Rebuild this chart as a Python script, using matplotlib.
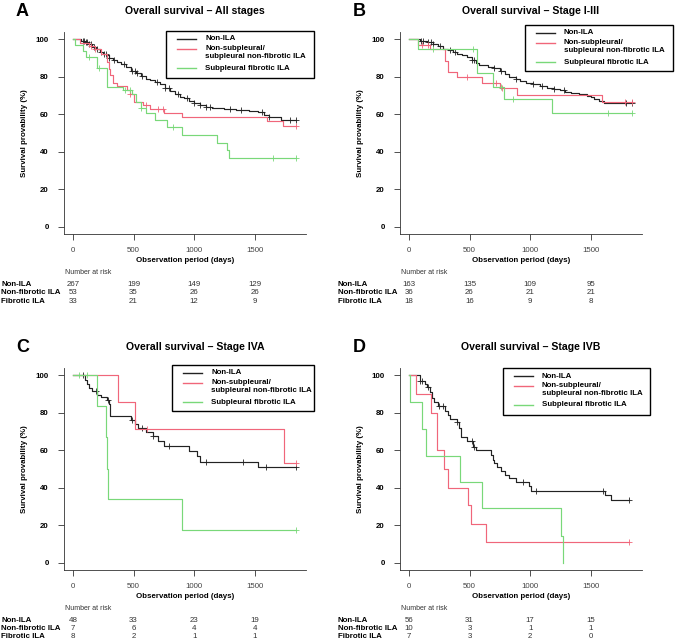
import numpy as np
import matplotlib
matplotlib.use("Agg")
import matplotlib.pyplot as plt
from matplotlib import transforms
from matplotlib.patches import Rectangle
from matplotlib.lines import Line2D

plt.rcParams['font.family'] = ['Liberation Sans', 'DejaVu Sans']

# ---------------- data ----------------
groups = ['Non-ILA', 'Non-subpleural/\nsubpleural non-fibrotic ILA', 'Subpleural fibrotic ILA']
risk_rows = ['Non-ILA', 'Non-fibrotic ILA', 'Fibrotic ILA']
risk_times = [0, 500, 1000, 1500]

# Panel A - all stages
a_non_t = [0, 70, 100, 130, 160, 190, 220, 250, 280, 300, 330, 360, 400, 440, 480, 520, 560, 600, 640,
           680, 720, 760, 800, 840, 880, 920, 960, 1000, 1050, 1100, 1150, 1250, 1350, 1450, 1530, 1580,
           1620, 1720]
a_non_s = [100, 99, 98.5, 97.5, 96, 95, 93.5, 92.5, 91.5, 90, 89, 88, 87, 85.5, 83, 82, 80.5, 79, 78.5,
           77.5, 76, 74, 72.5, 71, 69.5, 68.5, 67, 66, 65, 64, 63.5, 62.8, 62.3, 61.5, 61, 59.5,
           58.5, 57]
a_non_c = [85, 95, 105, 120, 135, 150, 175, 200, 230, 260, 275, 300, 340, 420, 490, 510, 530, 570, 690,
           760, 790, 870, 940, 1000, 1050, 1100, 1130, 1300, 1390, 1560, 1620, 1790, 1840]
a_nf_t = [0, 60, 130, 180, 230, 280, 295, 305, 330, 360, 450, 470, 500, 575, 640, 750, 900, 1600, 1730]
a_nf_s = [100, 98, 96.5, 95, 92, 88, 84, 81, 77, 75, 73, 71, 66.7, 64.8, 62.8, 60.5, 58.5, 56.5, 54]
a_nf_c = [150, 180, 470, 600, 700, 740, 1840]
a_f_t = [0, 20, 80, 110, 200, 285, 415, 490, 520, 560, 600, 680, 780, 900, 1190, 1270, 1285]
a_f_s = [100, 97.3, 94, 90.7, 84.8, 74.8, 72.9, 70.6, 66.5, 63.5, 60.5, 57, 53, 48.9, 44.8, 41, 36.7]
a_f_c = [130, 215, 430, 470, 560, 830, 1650, 1840]
a_end = [1840, 1840, 1840]
a_risk_non = [267, 199, 149, 129]
a_risk_nf = [53, 35, 26, 26]
a_risk_f = [33, 21, 12, 9]

# Panel B - stage I-III
b_non_t = [0, 90, 150, 200, 240, 280, 320, 360, 400, 440, 480, 520, 550, 580, 650, 700, 750, 790, 830,
           880, 920, 970, 1020, 1080, 1140, 1200, 1250, 1290, 1340, 1400, 1470, 1500, 1530, 1570, 1610, 1640]
b_non_s = [100, 99.4, 98.5, 97.5, 96.5, 95, 94.2, 93.5, 92.5, 91.5, 90.5, 89, 87.5, 86.2, 85.5, 84.5, 83,
           81.5, 80, 79, 78, 77, 76, 75, 74, 73.5, 72.8, 72, 71.2, 70.8, 70, 69, 68, 67, 66.3, 65.8]
b_non_c = [100, 120, 160, 180, 200, 260, 340, 380, 520, 540, 700, 760, 880, 1020, 1100, 1200, 1280,
           1790, 1840]
b_nf_t = [0, 75, 170, 300, 320, 400, 605, 750, 895, 1590]
b_nf_s = [100, 97.3, 94.7, 88.5, 82.7, 79.8, 76.8, 73.8, 70.3, 66.5]
b_nf_c = [110, 160, 480, 720, 770, 1780, 1840]
b_f_t = [0, 75, 560, 690, 785, 1180]
b_f_s = [100, 94.7, 81.9, 74.7, 68.1, 60.5]
b_f_c = [200, 525, 760, 860, 1645, 1840]
b_end = [1840, 1840, 1840]
b_risk_non = [163, 135, 109, 95]
b_risk_nf = [36, 26, 21, 21]
b_risk_f = [18, 16, 9, 8]

# Panel C - stage IVA
c_non_t = [0, 100, 115, 130, 160, 200, 230, 280, 295, 305, 480, 510, 540, 600, 660, 700, 750, 960, 1020,
           1050, 1530]
c_non_s = [100, 97.5, 95.5, 93.5, 91.5, 89.5, 88.5, 87, 85, 78.3, 76.2, 74, 72, 70, 67.5, 65, 62.3, 59.5,
           57, 54, 51.2]
c_non_c = [80, 190, 290, 490, 570, 660, 790, 1100, 1400, 1590, 1840]
c_nf_t = [0, 370, 510, 1740]
c_nf_s = [100, 86, 71.5, 53.4]
c_nf_c = [610, 1840]
c_f_t = [0, 200, 275, 282, 290, 900]
c_f_s = [100, 83.5, 67, 50, 34, 17.5]
c_f_c = [50, 120, 1840]
c_end = [1840, 1840, 1840]
c_risk_non = [48, 33, 23, 19]
c_risk_nf = [7, 6, 4, 4]
c_risk_f = [8, 2, 1, 1]

# Panel D - stage IVB
d_non_t = [0, 87, 130, 150, 170, 190, 210, 240, 300, 320, 335, 400, 410, 430, 480, 530, 550, 675, 690,
           700, 730, 760, 790, 830, 880, 990, 1005, 1620, 1670]
d_non_s = [100, 97, 95.5, 94, 91, 88, 86, 83.5, 81, 79, 77, 75, 72, 67, 65, 62, 60.2, 57.5, 55, 53, 51,
           49, 47, 45, 43, 41, 38.3, 36, 33.2]
d_non_c = [95, 105, 155, 250, 280, 400, 520, 540, 940, 1050, 1600, 1820]
d_nf_t = [0, 55, 183, 232, 292, 320, 484, 511, 634]
d_nf_s = [100, 90, 80, 60, 50, 40, 30.5, 20.5, 11]
d_nf_c = [1820]
d_f_t = [0, 10, 109, 137, 421, 607, 1257, 1270]
d_f_s = [100, 85.7, 71.4, 57.1, 43, 28.9, 14.3, 0]
d_f_c = []
d_end = [1820, 1820, 1270]
d_risk_non = [56, 31, 17, 15]
d_risk_nf = [10, 3, 1, 1]
d_risk_f = [7, 3, 2, 0]

panels = [
    ('A', 'Overall survival \u2013 All stages',
     [(a_non_t, a_non_s, a_non_c), (a_nf_t, a_nf_s, a_nf_c), (a_f_t, a_f_s, a_f_c)], a_end,
     [a_risk_non, a_risk_nf, a_risk_f]),
    ('B', 'Overall survival \u2013 Stage I-III',
     [(b_non_t, b_non_s, b_non_c), (b_nf_t, b_nf_s, b_nf_c), (b_f_t, b_f_s, b_f_c)], b_end,
     [b_risk_non, b_risk_nf, b_risk_f]),
    ('C', 'Overall survival \u2013 Stage IVA',
     [(c_non_t, c_non_s, c_non_c), (c_nf_t, c_nf_s, c_nf_c), (c_f_t, c_f_s, c_f_c)], c_end,
     [c_risk_non, c_risk_nf, c_risk_f]),
    ('D', 'Overall survival \u2013 Stage IVB',
     [(d_non_t, d_non_s, d_non_c), (d_nf_t, d_nf_s, d_nf_c), (d_f_t, d_f_s, d_f_c)], d_end,
     [d_risk_non, d_risk_nf, d_risk_f]),
]

# ---------------- layout (pixels) ----------------
W, H = 675, 644
colors = ['#222222', '#F0667A', '#79D879']
axes_pos = [(64, 32), (400, 32), (64, 368), (400, 368)]          # left, top
panel_left = [0, 337, 0, 337]
legend_box = [(166, 31, 314, 78), (525, 25, 673, 71), (172, 365, 314, 411), (503, 368, 650, 415)]
AW, AH = 242, 202
FS = 5.7


def fx(px):
    return px / W


def fy(py):
    return 1 - py / H


fig = plt.figure(figsize=(W / 100, H / 100), dpi=100)

for i, (letter, title, curves, ends, risk) in enumerate(panels):
    left, top = axes_pos[i]
    ax = fig.add_axes([fx(left), fy(top + AH), AW / W, AH / H])
    for (t, s, cens), col, tend in zip(curves, colors, ends):
        ax.step(t + [tend], s + [s[-1]], where='post', color=col, lw=0.85)
        if cens:
            cens = np.array(cens)
            idx = np.searchsorted(t, cens, side='right') - 1
            ax.plot(cens, np.array(s)[idx], ls='none', marker='+', color=col, ms=4, mew=0.6)

    ax.set_xlim(-74, 1924)
    ax.set_ylim(-4, 104)
    ax.set_xticks(risk_times)
    ax.set_yticks([0, 20, 40, 60, 80, 100])
    for sp in ['top', 'right']:
        ax.spines[sp].set_visible(False)
    for sp in ['left', 'bottom']:
        ax.spines[sp].set_linewidth(0.6)
        ax.spines[sp].set_color('#333333')
    ax.tick_params(axis='both', length=4, width=0.6, color='#333333')
    ax.tick_params(axis='x', labelsize=FS, labelcolor='#444444', pad=5)
    ax.tick_params(axis='y', labelsize=FS, pad=7)
    for lab in ax.get_yticklabels():
        lab.set_fontweight('bold')

    cx = left + AW / 2
    fig.text(fx(cx + 10), fy(top - 21), title, fontsize=7.6, fontweight='bold', ha='center', va='center')
    fig.text(fx(panel_left[i] + 16), fy(top - 21), letter, fontsize=13, fontweight='bold',
             ha='left', va='center')
    fig.text(fx(left - 39), fy(top + AH / 2), 'Survival provability (%)', fontsize=FS, fontweight='bold',
             rotation=90, ha='center', va='center')
    fig.text(fx(cx), fy(top + AH + 26), 'Observation period (days)', fontsize=FS, fontweight='bold',
             ha='center', va='center')

    # number at risk table
    fig.text(fx(left + 1), fy(top + AH + 38), 'Number at risk', fontsize=5.0, color='#333333',
             ha='left', va='center')
    trans = transforms.blended_transform_factory(ax.transData, fig.transFigure)
    for r, (name, vals) in enumerate(zip(risk_rows, risk)):
        yy = fy(top + AH + 50 + r * 8.5)
        fig.text(fx(panel_left[i] + 1), yy, name, fontsize=FS, fontweight='bold', ha='left', va='center')
        for tt, v in zip(risk_times, vals):
            fig.text(tt, yy, str(v), fontsize=FS, color='#333333', ha='center', va='center',
                     transform=trans)

    # legend box
    l, t_, r_, b_ = legend_box[i]
    fig.add_artist(Rectangle((fx(l), fy(b_)), (r_ - l) / W, (b_ - t_) / H, transform=fig.transFigure,
                             facecolor='white', edgecolor='black', lw=1.0, zorder=5))
    rows_y = [8, 17.5, 37]
    for g, col, ry in zip(groups, colors, rows_y):
        fig.add_artist(Line2D([fx(l + 11), fx(l + 30)], [fy(t_ + ry), fy(t_ + ry)], color=col, lw=1.0,
                              transform=fig.transFigure, zorder=6))
        fig.text(fx(l + 39), fy(t_ + ry - 3.5), g, fontsize=FS, fontweight='bold', ha='left', va='top',
                 linespacing=1.25, zorder=6)

fig.savefig('out.png', dpi=100)
